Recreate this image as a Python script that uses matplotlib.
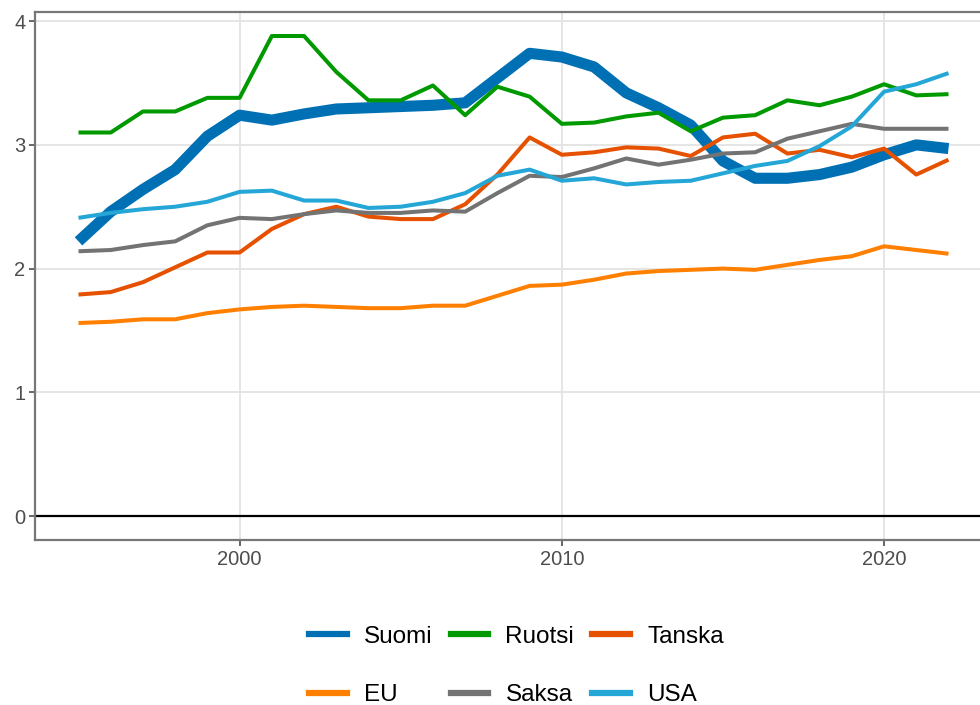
import matplotlib.pyplot as plt
from matplotlib.lines import Line2D
import numpy as np

plt.rcParams['font.family'] = ['Liberation Sans', 'DejaVu Sans']

years = np.arange(1995, 2023)

suomi = [2.22, 2.46, 2.64, 2.80, 3.07, 3.24, 3.20, 3.25, 3.29, 3.30, 3.31, 3.32, 3.34,
         3.54, 3.74, 3.71, 3.63, 3.42, 3.30, 3.16, 2.87, 2.73, 2.73, 2.76, 2.82, 2.92, 3.00, 2.97]
ruotsi = [3.10, 3.10, 3.27, 3.27, 3.38, 3.38, 3.88, 3.88, 3.59, 3.36, 3.36, 3.48, 3.24,
          3.47, 3.39, 3.17, 3.18, 3.23, 3.26, 3.11, 3.22, 3.24, 3.36, 3.32, 3.39, 3.49, 3.40, 3.41]
tanska = [1.79, 1.81, 1.89, 2.01, 2.13, 2.13, 2.32, 2.44, 2.50, 2.42, 2.40, 2.40, 2.52,
          2.76, 3.06, 2.92, 2.94, 2.98, 2.97, 2.91, 3.06, 3.09, 2.93, 2.96, 2.90, 2.97, 2.76, 2.88]
eu = [1.56, 1.57, 1.59, 1.59, 1.64, 1.67, 1.69, 1.70, 1.69, 1.68, 1.68, 1.70, 1.70,
      1.78, 1.86, 1.87, 1.91, 1.96, 1.98, 1.99, 2.00, 1.99, 2.03, 2.07, 2.10, 2.18, 2.15, 2.12]
saksa = [2.14, 2.15, 2.19, 2.22, 2.35, 2.41, 2.40, 2.44, 2.47, 2.45, 2.45, 2.47, 2.46,
         2.61, 2.75, 2.74, 2.81, 2.89, 2.84, 2.88, 2.93, 2.94, 3.05, 3.11, 3.17, 3.13, 3.13, 3.13]
usa = [2.41, 2.45, 2.48, 2.50, 2.54, 2.62, 2.63, 2.55, 2.55, 2.49, 2.50, 2.54, 2.61,
       2.75, 2.80, 2.71, 2.73, 2.68, 2.70, 2.71, 2.77, 2.83, 2.87, 2.99, 3.15, 3.43, 3.49, 3.58]

names = ['Suomi', 'Ruotsi', 'Tanska', 'EU', 'Saksa', 'USA']
series = [suomi, ruotsi, tanska, eu, saksa, usa]
colors = ['#0070b5', '#009a00', '#e65100', '#ff8000', '#737373', '#24a6d6']
widths = [8, 2.9, 2.9, 2.9, 2.9, 2.9]

fig = plt.figure(figsize=(9.8, 7.05), dpi=100)
ax = fig.add_axes([35 / 980, 1 - 540 / 705, (992 - 35) / 980, (540 - 12) / 705])

ax.grid(True, color='#e3e3e3', linewidth=1.3)
ax.set_axisbelow(True)
ax.axhline(0, color='black', linewidth=1.6, zorder=1.5)

for name, vals, c, w in zip(names, series, colors, widths):
    ax.plot(years, vals, color=c, linewidth=w, solid_capstyle='butt', solid_joinstyle='round')

ax.set_xlim(1993.65, 2023.35)
ax.set_ylim(-0.194, 4.074)
ax.set_xticks([2000, 2010, 2020])
ax.set_yticks([0, 1, 2, 3, 4])
ax.tick_params(colors='#4d4d4d', labelsize=14.5, length=4, width=1.2,
               labelcolor='#4d4d4d', pad=3)
for s in ax.spines.values():
    s.set_color('#777777')
    s.set_linewidth(1.6)

handles = [Line2D([], [], color=c, linewidth=4.5) for c in colors]
order = [0, 3, 1, 4, 2, 5]
fig.legend([handles[i] for i in order], [names[i] for i in order],
           loc='center', bbox_to_anchor=(0.527, 0.055), ncol=3, frameon=False,
           fontsize=17.5, handlelength=1.55, handletextpad=0.7, columnspacing=0.75,
           labelspacing=1.5)

fig.savefig('out.png', dpi=100)
